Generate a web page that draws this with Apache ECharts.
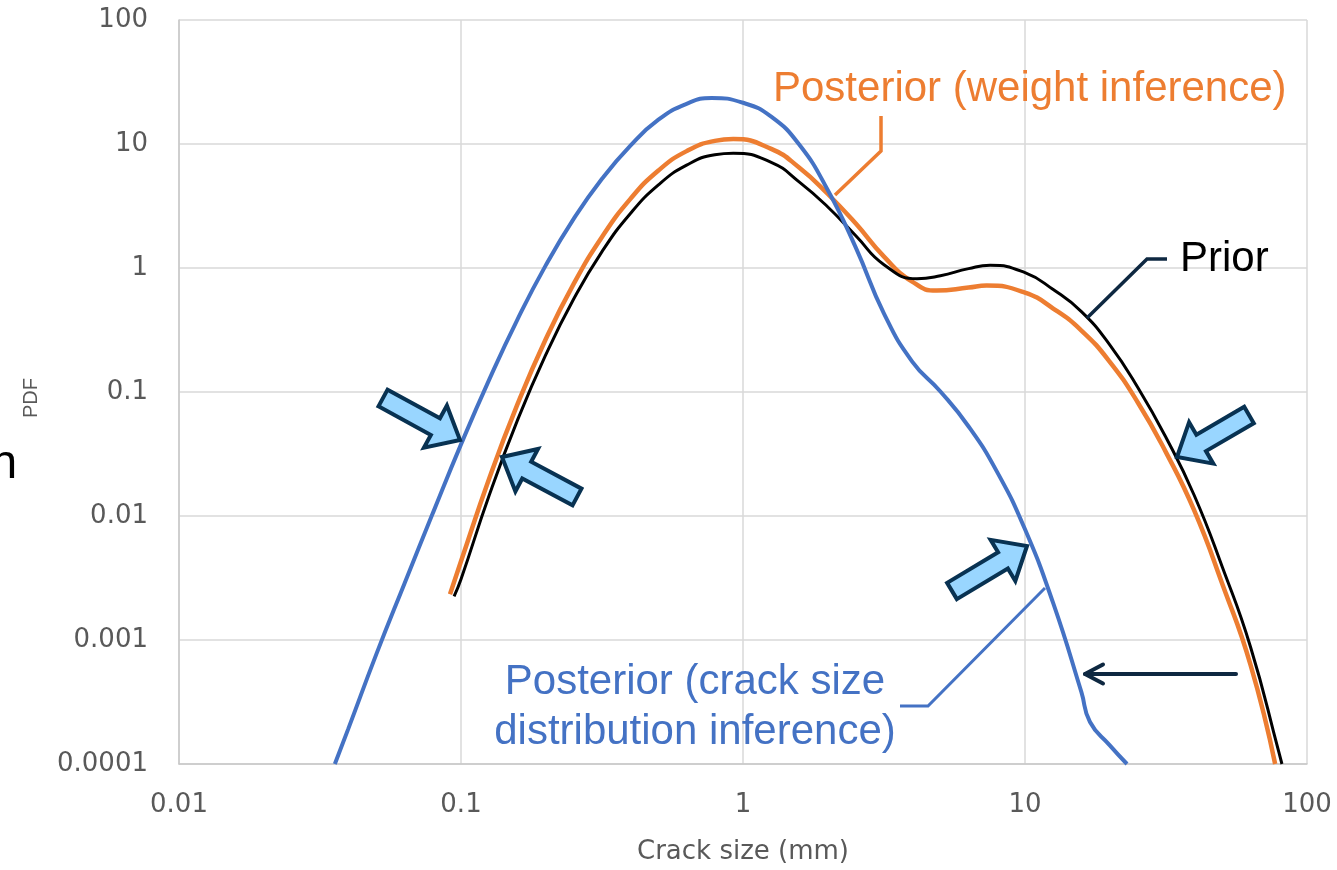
<!DOCTYPE html>
<html>
<head>
<meta charset="utf-8">
<script src="https://cdn.jsdelivr.net/npm/echarts@6/dist/echarts.min.js"></script>
<style>
  html, body { margin: 0; padding: 0; background: #ffffff; overflow: hidden; }
  #chart { width: 1337px; height: 870px; }
</style>
</head>
<body>
<div id="chart"></div>
<script>
// Crack size (mm) / PDF pairs for each distribution
const priorX = [0.0945, 0.1, 0.1259, 0.1585, 0.1995, 0.2512, 0.3162, 0.3981, 0.5012, 0.631, 0.7943, 0.924,
  1.259, 1.585, 1.995, 2.512, 3.162, 4.14, 5.012, 6.31, 7.52, 10, 12.59, 15.85, 19.95, 25.12,
  31.62, 39.81, 50.12, 63.1, 79.43, 81.5];
const priorY = [0.00225, 0.00309, 0.0147, 0.059, 0.198, 0.564, 1.355, 2.74, 4.68, 6.75, 8.2, 8.43,
  7.11, 4.93, 3.12, 1.82, 1.064, 0.82, 0.867, 0.988, 1.05, 0.917, 0.67, 0.445, 0.241, 0.1087,
  0.043, 0.0147, 0.00386, 0.000875, 0.000125, 0.0001];

const weightX = [0.0914, 0.1, 0.1259, 0.1585, 0.1995, 0.2512, 0.3162, 0.3981, 0.5012, 0.631, 0.7943, 0.924,
  1.259, 1.585, 1.995, 2.512, 3.162, 3.981, 4.86, 6.31, 7.31, 10, 12.59, 15.85, 19.95, 25.12,
  31.62, 39.81, 50.12, 63.1, 77.1];
const weightY = [0.00234, 0.00431, 0.0201, 0.0794, 0.265, 0.748, 1.78, 3.59, 6.11, 8.76, 10.6, 10.95,
  9.14, 6.43, 3.97, 2.28, 1.234, 0.776, 0.657, 0.695, 0.721, 0.633, 0.471, 0.313, 0.176, 0.0823,
  0.0326, 0.0111, 0.00282, 0.000627, 0.0001];

const crackX = [0.0357, 0.0398, 0.0501, 0.0631, 0.0794, 0.1, 0.1259, 0.1585, 0.1995, 0.2512, 0.3162,
  0.3981, 0.5012, 0.631, 0.774, 1, 1.259, 1.585, 1.995, 2.512, 3.162, 3.981, 5.012, 6.31, 7.943,
  10, 12.59, 15.85, 17.0, 19.95, 23.0];
const crackY = [0.0001, 0.000191, 0.000769, 0.00287, 0.0105, 0.0378, 0.126, 0.384, 1.045, 2.5, 5.24,
  9.67, 15.7, 21.1, 23.5, 21.5, 16.6, 9.85, 4.28, 1.46, 0.429, 0.176, 0.1009, 0.0527, 0.0229,
  0.00781, 0.00198, 0.00038, 0.000218, 0.000142, 0.0001];

const xTickLabels = ['0.01', '0.1', '1', '10', '100'];
const yTickLabels = ['0.0001', '0.001', '0.01', '0.1', '1', '10', '100'];

const pairs = (xs, ys) => xs.map((x, i) => [x, ys[i]]);

const NAVY = '#0E2841';
const ARROW_FILL = '#99D6FF';
const ARROW_EDGE = '#083252';

// Block arrow outline from tail centre to tip (pixel space)
function blockArrow(tip, tail) {
  const dx = tip[0] - tail[0], dy = tip[1] - tail[1];
  const L = Math.hypot(dx, dy);
  const ux = dx / L, uy = dy / L, nx = -uy, ny = ux;
  const w = 9.5, H = 24, h = 28;
  const local = [[0, w], [L - h, w], [L - h, H], [L, 0], [L - h, -H], [L - h, -w], [0, -w]];
  const pts = local.map(([a, p]) => [tail[0] + a * ux + p * nx, tail[1] + a * uy + p * ny]);
  return {
    type: 'polygon', z: 100,
    shape: { points: pts },
    style: { fill: ARROW_FILL, stroke: ARROW_EDGE, lineWidth: 4, lineJoin: 'miter' }
  };
}

function leader(points, color, width) {
  return {
    type: 'polyline', z: 90,
    shape: { points: points },
    style: { stroke: color, lineWidth: width, fill: null, lineJoin: 'miter', lineCap: 'butt' }
  };
}

function label(text, x, y, color, align, size) {
  return {
    type: 'text', z: 95,
    style: {
      text: text, x: x, y: y, fill: color,
      font: (size || 42) + 'px "Liberation Sans", Arial, sans-serif',
      align: align || 'left', verticalAlign: 'middle', lineHeight: 50
    }
  };
}

const chart = echarts.init(document.getElementById('chart'), null, { renderer: 'canvas' });

const tickFont = { fontFamily: '"DejaVu Sans", sans-serif', fontSize: 26, color: '#595959' };

chart.setOption({
  animation: false,
  backgroundColor: '#ffffff',
  grid: { left: 179, right: 30, top: 20, bottom: 105, containLabel: false },
  xAxis: {
    type: 'log', logBase: 10, min: 0.01, max: 100, splitNumber: 4,
    axisLine: { show: true, lineStyle: { color: '#C8C8C8', width: 1.5 } },
    axisTick: { show: false },
    splitLine: { show: true, lineStyle: { color: '#D9D9D9', width: 1.5 } },
    axisLabel: Object.assign({
      margin: 41, verticalAlign: 'middle',
      formatter: v => xTickLabels[Math.round(Math.log10(v)) + 2]
    }, tickFont),
    name: 'Crack size (mm)', nameLocation: 'middle', nameGap: 88,
    nameTextStyle: { fontFamily: '"DejaVu Sans", sans-serif', fontSize: 26, color: '#595959', verticalAlign: 'middle' }
  },
  yAxis: {
    type: 'log', logBase: 10, min: 0.0001, max: 100, splitNumber: 6,
    axisLine: { show: true, lineStyle: { color: '#C8C8C8', width: 1.5 } },
    axisTick: { show: false },
    splitLine: { show: true, lineStyle: { color: '#D9D9D9', width: 1.5 } },
    axisLabel: Object.assign({
      margin: 31,
      formatter: v => yTickLabels[Math.round(Math.log10(v)) + 4]
    }, tickFont)
  },
  series: [
    {
      name: 'Posterior (weight inference)', type: 'line', z: 2,
      data: pairs(weightX, weightY), showSymbol: false, smooth: 0.5,
      lineStyle: { color: '#ED7D31', width: 4.5 }
    },
    {
      name: 'Prior', type: 'line', z: 3,
      data: pairs(priorX, priorY), showSymbol: false, smooth: 0.5,
      lineStyle: { color: '#000000', width: 3 }
    },
    {
      name: 'Posterior (crack size distribution inference)', type: 'line', z: 4,
      data: pairs(crackX, crackY), showSymbol: false, smooth: 0.5,
      lineStyle: { color: '#4472C4', width: 4 }
    }
  ],
  graphic: [
    {
      type: 'text', z: 95, x: 31, y: 398, rotation: Math.PI / 2,
      style: {
        text: 'PDF', fill: '#595959', align: 'center', verticalAlign: 'middle',
        font: '20px "Liberation Sans", Arial, sans-serif'
      }
    },
    label('n', -9.5, 465, '#000000', 'left', 48),
    label('Posterior (weight inference)', 773, 89, '#ED7D31'),
    label('Prior', 1180, 259, '#000000'),
    label('Posterior (crack size\ndistribution inference)', 695, 707, '#4472C4', 'center'),
    leader([[881, 116], [881, 151], [835, 195]], '#ED7D31', 3.5),
    leader([[1167, 259], [1147, 259], [1087, 318]], NAVY, 3.5),
    leader([[900, 706], [928, 706], [1045, 588]], '#4472C4', 3),
    {
      type: 'polyline', z: 90,
      shape: { points: [[1236, 674], [1085, 674]] },
      style: { stroke: NAVY, lineWidth: 4, lineCap: 'round', fill: null }
    },
    {
      type: 'polyline', z: 90,
      shape: { points: [[1103, 664.5], [1085, 674], [1103, 683.5]] },
      style: { stroke: NAVY, lineWidth: 4, lineCap: 'round', lineJoin: 'round', fill: null }
    },
    blockArrow([460, 440], [383, 398]),
    blockArrow([502, 457], [577, 497]),
    blockArrow([1027, 546], [952, 591]),
    blockArrow([1177, 457], [1249, 415])
  ]
});
</script>
</body>
</html>
